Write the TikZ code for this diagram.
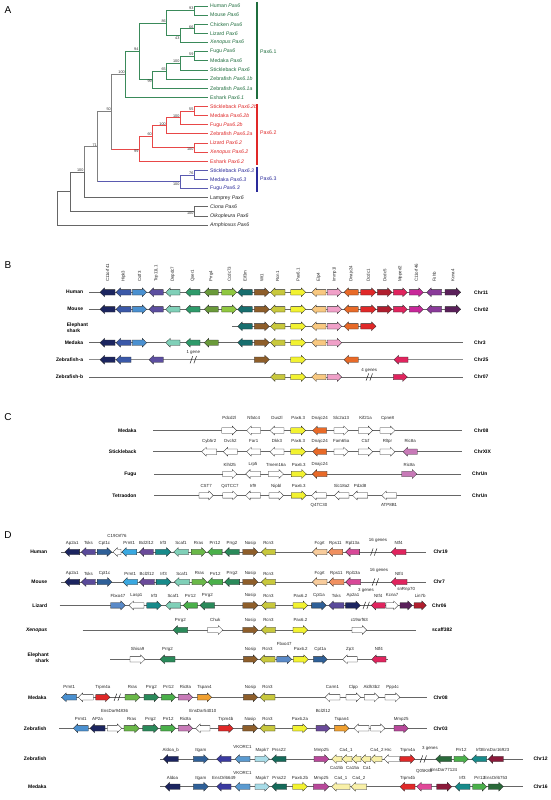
\documentclass[tikz,border=0pt]{standalone}
\usepackage{fontspec}
\setmainfont{Liberation Sans}
\definecolor{navy}{HTML}{1C2560}
\definecolor{blueB}{HTML}{3A58A8}
\definecolor{lblue}{HTML}{4A90D0}
\definecolor{purp}{HTML}{5C4EA0}
\definecolor{aqua}{HTML}{80D0B8}
\definecolor{grnB}{HTML}{2E9A6A}
\definecolor{olivegr}{HTML}{6A9A3A}
\definecolor{lime}{HTML}{90C840}
\definecolor{tealB}{HTML}{176E6E}
\definecolor{brownG}{HTML}{8E5E2A}
\definecolor{oliveY}{HTML}{C8C83C}
\definecolor{yel}{HTML}{F2F230}
\definecolor{peach}{HTML}{F8C880}
\definecolor{pinkB}{HTML}{F0A0C8}
\definecolor{orangeB}{HTML}{E86A28}
\definecolor{redB}{HTML}{E02828}
\definecolor{dkred}{HTML}{B01E2E}
\definecolor{crimson}{HTML}{E0245E}
\definecolor{magB}{HTML}{C8289A}
\definecolor{purpB}{HTML}{8A3A9A}
\definecolor{dkpurp}{HTML}{5A205A}
\definecolor{purpD}{HTML}{5A4A9A}
\definecolor{steel}{HTML}{2F6098}
\definecolor{sky}{HTML}{3AA8E0}
\definecolor{violet}{HTML}{6A4A9A}
\definecolor{tealD}{HTML}{178A8A}
\definecolor{grn1}{HTML}{6AB848}
\definecolor{grn2}{HTML}{4AB04A}
\definecolor{dkgrn}{HTML}{2A8A5A}
\definecolor{peachD}{HTML}{F8CC9C}
\definecolor{salmon}{HTML}{F09060}
\definecolor{pinkD}{HTML}{D84898}
\definecolor{mblue}{HTML}{5A8AC8}
\definecolor{mauve}{HTML}{C87AB8}
\definecolor{orangeT}{HTML}{F0A030}
\definecolor{magM}{HTML}{B8489A}
\definecolor{indigo}{HTML}{3A3AA0}
\definecolor{lblue2}{HTML}{5A9AD0}
\definecolor{lcyan}{HTML}{A8DCE8}
\definecolor{dkteal}{HTML}{156A5A}
\definecolor{lyellow}{HTML}{F8F0A8}
\definecolor{hotpink}{HTML}{E04898}
\definecolor{maroon}{HTML}{8A1A3A}
\definecolor{dkgrn2}{HTML}{2A6A3A}
\definecolor{tgreen}{HTML}{3A8A5A}
\definecolor{tgreenT}{HTML}{1F6E3E}
\definecolor{tred}{HTML}{E84848}
\definecolor{tredT}{HTML}{E02828}
\definecolor{tblue}{HTML}{5A5AB0}
\definecolor{tblueT}{HTML}{2A2A9A}
\newcount\gc
\newcommand{\gR}[4]{\filldraw[gst,fill=#4] (#1,#3-2.7) -- (#2-4.5,#3-2.7) -- (#2-4.5,#3-4.4) -- (#2,#3) -- (#2-4.5,#3+4.4) -- (#2-4.5,#3+2.7) -- (#1,#3+2.7) -- cycle;}
\newcommand{\gL}[4]{\filldraw[gst,fill=#4] (#2,#3-2.7) -- (#1+4.5,#3-2.7) -- (#1+4.5,#3-4.4) -- (#1,#3) -- (#1+4.5,#3+4.4) -- (#1+4.5,#3+2.7) -- (#2,#3+2.7) -- cycle;}
\newcommand{\gt}[3]{\global\advance\gc by 1\relax\node[glab] (g\the\gc) at ({#1},{#2}) {#3};}
\newcommand{\GR}[6]{\gR{#1}{#2}{#3}{#4}\gt{(#1+#2)/2}{#6}{#5}}
\newcommand{\GL}[6]{\gL{#1}{#2}{#3}{#4}\gt{(#1+#2)/2}{#6}{#5}}
\newcommand{\rl}[3]{\global\advance\gc by 1\relax\node[rowlab] (g\the\gc) at (#1,#2) {#3};}
\newcommand{\cl}[3]{\global\advance\gc by 1\relax\node[chrlab] (g\the\gc) at (#1,#2) {#3};}
\newcommand{\brk}[2]{\draw[brkst] (#1-3.2,#2+3.6) -- (#1-0.6,#2-3.6) (#1+0.6,#2+3.6) -- (#1+3.2,#2-3.6);}
\newcommand{\bl}[2]{\global\advance\gc by 1\relax\node[glab,rotate=90,anchor=west] (g\the\gc) at (#1,282) {#2};}
\newcommand{\leaf}[4]{\coordinate (t#1) at (208,#2); \node[leaf,text=#3] (L#1) at (210,#2) {#4};}
\newcommand{\bsa}[2]{\node[boot,anchor=south east,xshift=-0.5pt,yshift=0.3pt] (b#1) at (n#1) {#2};}
\newcommand{\bsb}[2]{\node[boot,anchor=north east,xshift=-0.5pt,yshift=-0.3pt] (b#1) at (n#1) {#2};}
% panel B genes
\newcommand{\BgA}[1]{\gL{100}{115}{#1}{navy}}
\newcommand{\BgB}[1]{\gL{116}{131}{#1}{blueB}}
\newcommand{\BgC}[1]{\gR{132.3}{146.7}{#1}{lblue}}
\newcommand{\BgD}[1]{\gL{149}{163.3}{#1}{purp}}
\newcommand{\BgE}[1]{\gL{165.7}{180}{#1}{aqua}}
\newcommand{\BgF}[1]{\gL{185.7}{200}{#1}{grnB}}
\newcommand{\BgG}[1]{\gL{204.3}{218.3}{#1}{olivegr}}
\newcommand{\BgH}[1]{\gR{221.7}{236.7}{#1}{lime}}
\newcommand{\BgI}[1]{\gL{237.7}{252.3}{#1}{tealB}}
\newcommand{\BgJ}[1]{\gR{254.3}{269.3}{#1}{brownG}}
\newcommand{\BgK}[1]{\gL{270.5}{285}{#1}{oliveY}}
\newcommand{\BgL}[1]{\gR{290.7}{305.7}{#1}{yel}}
\newcommand{\BgM}[1]{\gL{311.7}{326}{#1}{peach}}
\newcommand{\BgN}[1]{\gR{327.3}{341.7}{#1}{pinkB}}
\newcommand{\BgO}[1]{\gL{344}{358.3}{#1}{orangeB}}
\newcommand{\BgP}[1]{\gR{360.7}{376}{#1}{redB}}
\newcommand{\BgQ}[1]{\gR{377.3}{392}{#1}{dkred}}
\newcommand{\BgR}[1]{\gR{393.3}{407.3}{#1}{crimson}}
\newcommand{\BgS}[1]{\gR{409.3}{423.3}{#1}{magB}}
\newcommand{\BgT}[1]{\gL{426.7}{441.7}{#1}{purpB}}
\newcommand{\BgU}[1]{\gR{445}{460.7}{#1}{dkpurp}}
\begin{document}
\begin{tikzpicture}[x=1pt,y=-1pt,
  gst/.style={draw=black!85,line width=0.3pt},
  glab/.style={font=\fontsize{4.4}{5}\selectfont,inner sep=0pt,text=black!85},
  rowlab/.style={font=\bfseries\fontsize{5}{6}\selectfont,inner sep=0pt,anchor=east},
  chrlab/.style={font=\bfseries\fontsize{5}{6}\selectfont,inner sep=0pt,anchor=west},
  rline/.style={draw=black!60,line width=0.6pt},
  brkst/.style={draw=black!85,line width=0.5pt},
  panel/.style={font=\fontsize{10}{12}\selectfont,inner sep=0pt},
  leaf/.style={font=\fontsize{5.2}{6}\selectfont,inner sep=0pt,anchor=west},
  boot/.style={font=\fontsize{3.8}{4}\selectfont,inner sep=0.2pt,text=black!80},
  tl/.style={line width=0.8pt}]
\useasboundingbox[fill=white] (0,0) rectangle (551,800);

%================ A: tree
\node[panel] (pA) at (8,10) {A};
\leaf{0}{6.0}{tgreenT}{Human \textit{Pax6}}
\leaf{1}{15.13}{tgreenT}{Mouse \textit{Pax6}}
\leaf{2}{24.26}{tgreenT}{Chicken \textit{Pax6}}
\leaf{3}{33.39}{tgreenT}{Lizard \textit{Pax6}}
\leaf{4}{42.52}{tgreenT}{\textit{Xenopus Pax6}}
\leaf{5}{51.65}{tgreenT}{Fugu \textit{Pax6}}
\leaf{6}{60.78}{tgreenT}{Medaka \textit{Pax6}}
\leaf{7}{69.91}{tgreenT}{Stickleback \textit{Pax6}}
\leaf{8}{79.04}{tgreenT}{Zebrafish \textit{Pax6.1b}}
\leaf{9}{88.17}{tgreenT}{Zebrafish \textit{Pax6.1a}}
\leaf{10}{97.3}{tgreenT}{Eshark \textit{Pax6.1}}
\leaf{11}{106.43}{tredT}{Stickleback \textit{Pax6.2b}}
\leaf{12}{115.56}{tredT}{Medaka \textit{Pax6.2b}}
\leaf{13}{124.69}{tredT}{Fugu \textit{Pax6.2b}}
\leaf{14}{133.82}{tredT}{Zebrafish \textit{Pax6.2a}}
\leaf{15}{142.95}{tredT}{Lizard \textit{Pax6.2}}
\leaf{16}{152.08}{tredT}{\textit{Xenopus Pax6.2}}
\leaf{17}{161.21}{tredT}{Eshark \textit{Pax6.2}}
\leaf{18}{170.34}{tblueT}{Stickleback \textit{Pax6.3}}
\leaf{19}{179.47}{tblueT}{Medaka \textit{Pax6.3}}
\leaf{20}{188.6}{tblueT}{Fugu \textit{Pax6.3}}
\leaf{21}{197.73}{black!85}{Lamprey \textit{Pax6}}
\leaf{22}{206.86}{black!85}{\textit{Ciona Pax6}}
\leaf{23}{215.99}{black!85}{\textit{Oikopleura Pax6}}
\leaf{24}{225.12}{black!85}{\textit{Amphioxus Pax6}}
\coordinate (n1) at (194.3,10.57);
\coordinate (n2) at (194.3,28.83);
\coordinate (n3) at (180.3,35.67);
\coordinate (n4) at (166.7,23.12);
\coordinate (n5) at (194.3,56.22);
\coordinate (n6) at (180.3,63.06);
\coordinate (n7) at (166.7,71.05);
\coordinate (n8) at (152.7,79.61);
\coordinate (n9) at (139.3,51.36);
\coordinate (n10) at (125.7,74.33);
\coordinate (n11) at (194.3,111.0);
\coordinate (n12) at (180.3,117.84);
\coordinate (n13) at (166.7,125.83);
\coordinate (n14) at (152.7,136.67);
\coordinate (n15) at (194.3,147.52);
\coordinate (n16) at (139.3,148.94);
\coordinate (n17) at (111.7,111.64);
\coordinate (n18) at (194.3,174.9);
\coordinate (n19) at (180.3,181.75);
\coordinate (n20) at (97.7,146.7);
\coordinate (n21) at (84.3,172.2);
\coordinate (n22) at (194.3,211.4);
\coordinate (n23) at (70.3,191.8);
\coordinate (n24) at (57,208.46);
% gray backbone
\draw[tl,draw=black!50] (n17) |- (n10) (n17) |- (n16) (n20) |- (n17) (n20) |- (n19) (n21) |- (n20);
\draw[tl,draw=black!60] (n21) |- (t21) (n23) |- (n21) (n23) |- (n22) (n24) |- (n23) (n24) |- (t24) (n22) |- (t22) (n22) |- (t23);
% green
\draw[tl,draw=tgreen] (n10) |- (n9) (n10) |- (t10) (n9) |- (n4) (n9) |- (n8) (n4) |- (n1) (n4) |- (n3)
  (n1) |- (t0) (n1) |- (t1) (n3) |- (n2) (n3) |- (t4) (n2) |- (t2) (n2) |- (t3)
  (n8) |- (n7) (n8) |- (t9) (n7) |- (n6) (n7) |- (t8) (n6) |- (n5) (n6) |- (t7) (n5) |- (t5) (n5) |- (t6);
% red
\draw[tl,draw=tred] (n16 -| n17) -- (n16) (n16) |- (n14) (n16) |- (t17) (n14) |- (n13) (n14) |- (n15)
  (n13) |- (n12) (n13) |- (t14) (n12) |- (n11) (n12) |- (t13) (n11) |- (t11) (n11) |- (t12) (n15) |- (t15) (n15) |- (t16);
% blue
\draw[tl,draw=tblue] (n19 -| n20) -- (n19) (n19) |- (n18) (n19) |- (t20) (n18) |- (t18) (n18) |- (t19);
\bsa{1}{93}\bsa{2}{66}\bsb{3}{43}\bsa{4}{86}\bsa{5}{59}\bsa{6}{100}\bsa{7}{65}\bsb{8}{99}
\bsa{9}{94}\bsa{10}{100}\bsa{11}{55}\bsa{12}{100}\bsa{13}{100}\bsa{14}{60}\bsb{15}{100}\bsb{16}{99}
\bsa{17}{50}\bsa{18}{76}\bsb{19}{100}\bsa{20}{71}\bsa{21}{100}\bsb{22}{100}
\draw[line width=2.2pt,draw=tgreenT] (257,2) -- (257,99);
\draw[line width=2.2pt,draw=tredT] (257,104) -- (257,165);
\draw[line width=2.2pt,draw=tblueT] (257,167) -- (257,192);
\node[leaf,text=tgreenT] (s1) at (260,52) {Pax6.1};
\node[leaf,text=tredT] (s2) at (260,133) {Pax6.2};
\node[leaf,text=tblueT] (s3) at (260,179) {Pax6.3};

%================ B
\node[panel] (pB) at (8,265) {B};
\bl{107.5}{C11orf41}\bl{123.5}{Hipk3}\bl{139.5}{Cstf3}\bl{156.2}{Tcp11L1}\bl{172.8}{Depdc7}
\bl{192.8}{Qser1}\bl{211.3}{Prrg4}\bl{229.2}{Ccdc73}\bl{245}{Eif3m}\bl{261.8}{Wt1}\bl{277.7}{Rcn1}
\bl{298.2}{Pax6.1}\bl{318.8}{Elp4}\bl{334.5}{Immp1l}\bl{351.2}{Dnajc24}\bl{368.3}{Dcdc1}
\bl{384.7}{Dcdc5}\bl{400.3}{Mpped2}\bl{416.3}{C11orf46}\bl{434.2}{Fshb}\bl{452.8}{Kcna4}
\foreach \y in {292.3,309.3}{\draw[rline] (89.3,\y) -- (460.7,\y);
 \BgA{\y}\BgB{\y}\BgC{\y}\BgD{\y}\BgE{\y}\BgF{\y}\BgG{\y}\BgH{\y}\BgI{\y}\BgJ{\y}\BgK{\y}
 \BgL{\y}\BgM{\y}\BgN{\y}\BgO{\y}\BgP{\y}\BgQ{\y}\BgR{\y}\BgS{\y}\BgT{\y}\BgU{\y}}
\draw[rline] (232,326.3) -- (370,326.3);
\BgI{326.3}\BgJ{326.3}\BgK{326.3}\BgL{326.3}\BgM{326.3}\BgN{326.3}\BgO{326.3}\BgP{326.3}
\draw[rline] (89.3,342.7) -- (462.7,342.7);
\BgA{342.7}\BgB{342.7}\BgC{342.7}\BgE{342.7}\BgF{342.7}\BgG{342.7}\BgI{342.7}\BgJ{342.7}\BgK{342.7}\BgL{342.7}\BgM{342.7}\BgN{342.7}
\draw[rline,draw=black!45] (89.3,359.7) -- (462.7,359.7);
\BgA{359.7}\BgB{359.7}\BgD{359.7}\brk{193.3}{359.7}\gt{193.3}{352.7}{1 gene}
\BgJ{359.7}\BgL{359.7}\BgO{359.7}\gL{394}{408}{359.7}{crimson}
\draw[rline] (89.3,377) -- (462.7,377);
\BgK{377}\BgL{377}\BgM{377}\BgN{377}\brk{369.3}{377}\gt{369.3}{370.2}{4 genes}\BgR{377}
\rl{83.3}{292.3}{Human}\rl{83.3}{309.3}{Mouse}
\global\advance\gc by 1\relax\node[rowlab,anchor=west,align=left] (g\the\gc) at (66.7,327.3) {Elephant\\shark};
\rl{83.3}{342.7}{Medaka}\rl{83.3}{359.7}{Zebrafish-a}\rl{83.3}{377}{Zebrafish-b}
\cl{474}{292.3}{Chr11}\cl{474}{309.3}{Chr02}\cl{474}{342.7}{Chr3}\cl{474}{359.7}{Chr25}\cl{474}{377}{Chr07}

%================ C
\node[panel] (pC) at (8,416.7) {C};
\draw[rline] (153.3,430.5) -- (461.7,430.5);
\GR{221.7}{236.7}{430.5}{white}{Pdcd2l}{418}
\GL{246.7}{260.7}{430.5}{white}{Nfatc4}{418}
\GL{270}{284}{430.5}{white}{Dus2l}{418}
\GR{290.7}{305.7}{430.5}{yel}{Pax6.3}{418}
\GL{312.7}{326.7}{430.5}{orangeB}{Dnajc24}{418}
\GR{334}{348.3}{430.5}{white}{Slc2a13}{418}
\GR{358.3}{372.7}{430.5}{white}{Kif21a}{418}
\GR{380}{395}{430.5}{white}{Cpne8}{418}
\draw[rline] (153.3,451.7) -- (461.7,451.7);
\GL{201.7}{216.7}{451.7}{white}{Cyb5r2}{441}
\GL{223.3}{237.3}{451.7}{white}{Ovch2}{441}
\GL{246.7}{260.7}{451.7}{white}{Far1}{441}
\GL{270}{284}{451.7}{white}{Dkk3}{441}
\GR{290.7}{305.7}{451.7}{yel}{Pax6.3}{441}
\GL{312.7}{326.7}{451.7}{orangeB}{Dnajc24}{441}
\GR{334}{348.3}{451.7}{white}{Fam65a}{441}
\GR{358.3}{372.7}{451.7}{white}{Ctcf}{441}
\GR{380}{395}{451.7}{white}{Rltpr}{441}
\GL{403}{417.3}{451.7}{mauve}{Ric8a}{441}
\draw[rline] (154.4,474) -- (461.4,474);
\GR{222.8}{236.8}{474}{white}{Klhl25}{464.6}
\GL{245.6}{260.4}{474}{white}{Lrp5}{464.6}
\GR{268.4}{283.5}{474}{white}{Tmem16a}{464.6}
\GR{291.2}{306.3}{474}{yel}{Pax6.3}{464.6}
\GL{312.3}{327}{474}{orangeB}{Dnajc24}{464.6}
\GR{401.8}{416.8}{474}{mauve}{Ric8a}{464.6}
\draw[rline] (154.4,495.4) -- (461.4,495.4);
\GR{199}{213.3}{495.4}{white}{CST7}{486}
\GR{222.8}{237.2}{495.4}{white}{Q4TCC7}{486}
\GL{245.6}{260.4}{495.4}{white}{Irf9}{486}
\GR{269}{283.5}{495.4}{white}{Nipbl}{486}
\GR{291.2}{306.3}{495.4}{yel}{Pax6.3}{486}
\GL{311.6}{326.3}{495.4}{white}{Q4TC30}{505}
\GL{334.4}{349}{495.4}{white}{Slc18a2}{486}
\GL{352.6}{367.7}{495.4}{white}{Pdzd8}{486}
\GL{381.8}{396.5}{495.4}{white}{ATP8B1}{505}
\rl{136.7}{430.5}{Medaka}\rl{136.7}{451.7}{Stickleback}\rl{136.7}{474}{Fugu}\rl{136.7}{495.4}{Tetraodon}
\cl{474}{430.5}{Chr08}\cl{474}{451.7}{ChrXIX}\cl{472}{474}{ChrUn}\cl{472}{495.4}{ChrUn}

%================ D
\node[panel] (pD) at (8,535.4) {D};
% Human
\draw[rline] (61.4,552) -- (426.3,552);
\GL{64.9}{79.6}{552}{navy}{Ap2a1}{543.2}
\GL{81.4}{95.4}{552}{purpD}{Tsks}{543.2}
\GR{97.2}{111.6}{552}{steel}{Cpt1c}{543.2}
\GL{113}{121}{552}{white}{C19Orf76}{535.8}
\GL{121.8}{136.8}{552}{sky}{Prmt1}{543.2}
\GL{139.3}{153.3}{552}{violet}{Bcl2l12}{543.2}
\GR{155.4}{170.9}{552}{tealD}{Irf3}{543.2}
\GL{173.7}{188.4}{552}{aqua}{Scaf1}{543.2}
\GR{191.2}{206}{552}{grn1}{Rras}{543.2}
\GL{207.7}{222.1}{552}{grn2}{Prr12}{543.2}
\GL{224.6}{239.3}{552}{dkgrn}{Prrg2}{543.2}
\GR{242.8}{258}{552}{brownG}{Nosip}{543.2}
\GL{261.4}{275.4}{552}{oliveY}{Rcn3}{543.2}
\GL{312.3}{327}{552}{peachD}{Fcgrt}{543.2}
\GL{328}{342.8}{552}{salmon}{Rps11}{543.2}
\GL{345.6}{359.6}{552}{pinkD}{Rpl13a}{543.2}
\brk{373.7}{552}\gt{378}{540.5}{16 genes}
\GL{391.2}{406}{552}{crimson}{Ntf4}{543.2}
% Mouse
\draw[rline] (61.4,582) -- (426.3,582);
\GL{64.9}{79.6}{582}{navy}{Ap2a1}{573.5}
\GL{81.4}{95.4}{582}{purpD}{Tsks}{573.5}
\GR{97.2}{112}{582}{steel}{Cpt1c}{573.5}
\GL{122.8}{137.5}{582}{sky}{Prmt1}{573.5}
\GL{139.3}{154.4}{582}{violet}{Bcl2l12}{573.5}
\GR{156.1}{171.2}{582}{tealD}{Irf3}{573.5}
\GL{174.4}{189.5}{582}{aqua}{Scaf1}{573.5}
\GR{191.9}{207}{582}{grn1}{Rras}{573.5}
\GL{207.7}{222.8}{582}{grn2}{Prr12}{573.5}
\GL{224.6}{239.6}{582}{dkgrn}{Prrg2}{573.5}
\GR{242.8}{258}{582}{brownG}{Nosip}{573.5}
\GL{261.4}{275.4}{582}{oliveY}{Rcn3}{573.5}
\GL{312.3}{327}{582}{peachD}{Fcgrt}{573.5}
\GL{328.8}{343.9}{582}{salmon}{Rps11}{573.5}
\GL{345.6}{360.7}{582}{pinkD}{Rpl13a}{573.5}
\brk{375.4}{582}\gt{379}{570.5}{16 genes}
\GL{391.2}{407}{582}{crimson}{Ntf4}{573.5}
% Lizard
\draw[rline] (59.6,605.4) -- (426,605.4);
\GR{110.5}{125.3}{605.4}{mblue}{Fbxo47}{595.5}
\GL{129}{143.9}{605.4}{white}{Lasp1}{595.5}
\GR{146.7}{161.4}{605.4}{tealD}{Irf3}{595.5}
\GL{165.6}{180.7}{605.4}{aqua}{Scaf1}{595.5}
\GL{183.2}{197.5}{605.4}{grn2}{Prr12}{595.5}
\GL{200}{214.7}{605.4}{dkgrn}{Prrg2}{595.5}
\GR{242.8}{258}{605.4}{brownG}{Nosip}{595.5}
\GL{261.4}{275.4}{605.4}{oliveY}{Rcn3}{595.5}
\GR{293}{307.7}{605.4}{yel}{Pax6.2}{595.5}
\GR{311.6}{326.3}{605.4}{steel}{Cpt1a}{595.5}
\GL{328.8}{343.9}{605.4}{purpD}{Tsks}{595.5}
\GR{345.6}{360.4}{605.4}{navy}{Ap2a1}{595.5}
\brk{366.2}{605.4}\gt{366}{590}{3 genes}
\GL{371.2}{385.3}{605.4}{crimson}{Ntf4}{595.5}
\GR{386}{398.2}{605.4}{white}{Kcna7}{595.5}
\GR{400}{412.3}{605.4}{dkpurp}{snRnp70}{589}
\GR{414}{426.3}{605.4}{dkred}{Lin7b}{595.5}
% Xenopus
\draw[rline] (82.5,630) -- (415.8,630);
\GL{173}{187.7}{630}{dkgrn}{Prrg2}{620}
\GR{207.7}{222.8}{630}{white}{Chuk}{620}
\GR{242.8}{258}{630}{brownG}{Nosip}{620}
\GL{261.4}{275.4}{630}{oliveY}{Rcn3}{620}
\GR{293}{307.7}{630}{yel}{Pax6.2}{620}
\GR{352}{366.7}{630}{white}{c19orf63}{620}
% Elephant shark
\draw[rline] (110,659.3) -- (388.3,659.3);
\GR{130}{145}{659.3}{white}{Shisa9}{649}
\GL{160}{175}{659.3}{dkgrn}{Prrg2}{649}
\GR{243.3}{257.7}{659.3}{brownG}{Nosip}{649}
\GL{260}{275}{659.3}{oliveY}{Rcn3}{649}
\GR{276.7}{291.7}{659.3}{mblue}{Fbxo47}{644}
\GR{293.3}{308.3}{659.3}{yel}{Pax6.2}{649}
\GR{313.3}{327.3}{659.3}{steel}{Cpt1a}{649}
\GL{342.7}{357.3}{659.3}{white}{Zp3}{649}
\GL{371.7}{386}{659.3}{crimson}{Ntf4}{649}
% Medaka Chr08
\draw[rline] (61,697.3) -- (426.7,697.3);
\GL{61.7}{76.7}{697.3}{lblue}{Prmt1}{687.3}
\gL{78.3}{93.3}{697.3}{white}
\GR{95.7}{110}{697.3}{redB}{Trpm4a}{687.3}
\brk{117.3}{697.3}
\GR{125}{140}{697.3}{grn1}{Rras}{687.3}
\GR{144}{158.7}{697.3}{dkgrn}{Prrg2}{687.3}
\GR{161.3}{175.7}{697.3}{grn2}{Prr12}{687.3}
\GR{178.3}{192.7}{697.3}{mauve}{Ric8a}{687.3}
\GR{197.3}{211.7}{697.3}{orangeT}{Tspan4}{687.3}
\GR{243.3}{257.7}{697.3}{brownG}{Nosip}{687.3}
\GL{260}{275}{697.3}{oliveY}{Rcn3}{687.3}
\GL{325}{340}{697.3}{white}{Carm1}{687.3}
\GR{346}{360.7}{697.3}{white}{Clpp}{687.3}
\GR{364.3}{379}{697.3}{white}{Aldh3b2}{687.3}
\GR{385}{400}{697.3}{white}{Ppp4c}{687.3}
% Zebrafish Chr03
\draw[rline] (59.3,728.3) -- (426.7,728.3);
\GL{73.3}{88.3}{728.3}{lblue}{Prmt1}{719}
\GL{90}{105}{728.3}{navy}{AP2a}{719}
\GR{107.3}{121.7}{728.3}{white}{EnsDar94836}{710.7}
\GR{124}{139.3}{728.3}{grn1}{Rras}{719}
\GR{142.7}{158.3}{728.3}{dkgrn}{Prrg2}{719}
\GR{160.7}{175.7}{728.3}{grn2}{Prr12}{719}
\GR{178.3}{192.7}{728.3}{mauve}{Ric8a}{719}
\GL{195.7}{210}{728.3}{white}{EnsDar54010}{710.7}
\GR{218.3}{233.3}{728.3}{redB}{Trpm4b}{719}
\GR{242.7}{257.7}{728.3}{brownG}{Nosip}{719}
\GL{260}{275}{728.3}{oliveY}{Rcn3}{719}
\GR{292.7}{307.3}{728.3}{yel}{Pax6.2a}{719}
\GR{316}{330}{728.3}{violet}{Bcl2l12}{710.7}
\GR{334.3}{349}{728.3}{orangeT}{Tspan4}{719}
\gL{354}{369}{728.3}{white}
\gR{370.7}{385}{728.3}{white}
\GR{394}{408.3}{728.3}{magM}{Mmp25}{719}
% Zebrafish Chr12
\draw[rline] (160,759) -- (523.3,759);
\GL{163.3}{178.3}{759}{navy}{Aldoa\_b}{750.3}
\GR{193.3}{208.3}{759}{steel}{Itgam}{750.3}
\gL{216.7}{231}{759}{indigo}
\GL{235}{250}{759}{lblue2}{VKORC1}{746.5}
\GR{255}{269.3}{759}{lcyan}{Mapk7}{750.3}
\GL{271.7}{286}{759}{dkteal}{Prss22}{750.3}
\GR{314}{329}{759}{magM}{Mmp25}{750.3}
\gL{331.7}{342}{759}{lyellow}
\gL{342}{352}{759}{lyellow}
\gL{352}{361}{759}{lyellow}
\gL{361}{370.5}{759}{lyellow}
\gL{370.5}{382}{759}{lyellow}
\gL{384}{399.3}{759}{white}
\gt{346}{750.3}{Ca4\_1}\gt{381}{750.3}{Ca4\_2 Hrc}
\gt{336.7}{768}{Ca15b}\gt{352.7}{768}{Ca15a}\gt{367}{768}{Ca1}
\GR{400}{415}{759}{redB}{Trpm4a}{750.3}
\brk{423.3}{759}\gt{430}{748}{3 genes}
\GL{435.7}{451.7}{759}{dkgrn2}{EnsDar77124}{769.5}
\GR{454}{468.3}{759}{grn2}{Prr12}{750.3}
\GL{471.7}{486.7}{759}{tealD}{Irf3}{750.3}
\GL{488.3}{503.3}{759}{maroon}{EnsDar16923}{750.3}
% Medaka Chr16
\draw[rline] (160,786.7) -- (523.3,786.7);
\GL{165}{180}{786.7}{navy}{Aldoa}{778}
\GR{193.3}{208.3}{786.7}{steel}{Itgam}{778}
\GL{216.7}{231}{786.7}{indigo}{EnsOrl6649}{778}
\GL{235}{250}{786.7}{lblue2}{VKORC1}{772.5}
\GR{255}{269.3}{786.7}{lcyan}{Mapk7}{778}
\GL{271.7}{286.7}{786.7}{dkteal}{Prss22}{778}
\GR{292.7}{307.3}{786.7}{yel}{Pax6.2b}{778}
\GR{313.3}{329}{786.7}{magM}{Mmp25}{778}
\GL{331.7}{350}{786.7}{lyellow}{Ca4\_1}{778}
\GL{351}{366.7}{786.7}{lyellow}{Ca4\_2}{778}
\GL{400}{415}{786.7}{redB}{Trpm4b}{778}
\GL{416.7}{431.7}{786.7}{hotpink}{Q05K88}{771}
\gR{436.7}{451.7}{786.7}{maroon}
\GL{455}{470}{786.7}{tealD}{Irf3}{778}
\GR{472.7}{486.7}{786.7}{grn2}{Prr12}{778}
\GR{488.3}{503.3}{786.7}{dkgrn2}{EnsOrl6753}{778}
% row and chromosome labels
\rl{47.4}{552}{Human}\rl{47.4}{582}{Mouse}\rl{47.4}{605.4}{Lizard}
\rl{47.4}{630}{\textit{Xenopus}}
\global\advance\gc by 1\relax\node[rowlab,align=right] (g\the\gc) at (49,657.6) {Elephant\\shark};
\rl{46.7}{697.3}{Medaka}\rl{46.7}{728.3}{Zebrafish}\rl{46.7}{759}{Zebrafish}\rl{46.7}{786.7}{Medaka}
\cl{433.3}{552}{Chr19}\cl{433.3}{582}{Chr7}\cl{432}{605.4}{Chr06}\cl{432}{630}{scaff382}
\cl{433.3}{697.3}{Chr08}\cl{433.3}{728.3}{Chr03}\cl{533.3}{759}{Chr12}\cl{533.3}{786.7}{Chr16}
\end{tikzpicture}
\end{document}
